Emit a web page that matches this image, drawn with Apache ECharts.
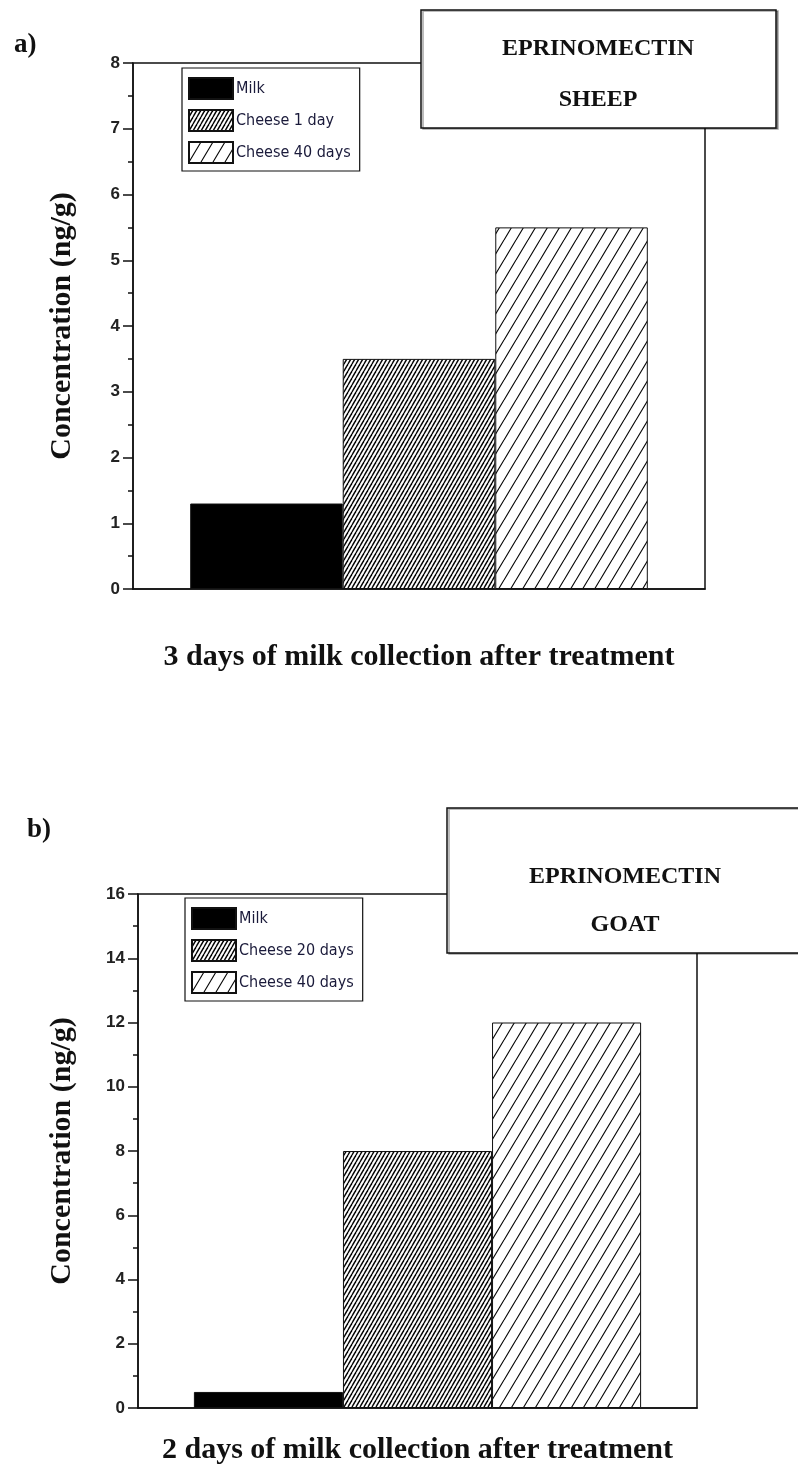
<!DOCTYPE html>
<html>
<head>
<meta charset="utf-8">
<script src="https://cdn.jsdelivr.net/npm/echarts@6/dist/echarts.min.js"></script>
<style>
html,body{margin:0;padding:0;background:#fff;}
#c{width:798px;height:1476px;}
</style>
</head>
<body>
<div id="c"></div>
<script>
// ---- data ----
const categoriesA = ['3 days of milk collection after treatment'];
const categoriesB = ['2 days of milk collection after treatment'];
const seriesNamesA = ['Milk', 'Cheese 1 day', 'Cheese 40 days'];
const seriesNamesB = ['Milk', 'Cheese 20 days', 'Cheese 40 days'];
const valuesA = [[1.3], [3.5], [5.5]];
const valuesB = [[0.5], [8], [12]];
const yTicksA = [0, 1, 2, 3, 4, 5, 6, 7, 8];
const yTicksB = [0, 2, 4, 6, 8, 10, 12, 14, 16];
const yLabel = 'Concentration (ng/g)';
const boxA = ['EPRINOMECTIN', 'SHEEP'];
const boxB = ['EPRINOMECTIN', 'GOAT'];

// ---- hatch patterns ----
function hatch(s, h, lw) {
  const c = document.createElement('canvas');
  c.width = s; c.height = h;
  const g = c.getContext('2d');
  g.fillStyle = '#fff'; g.fillRect(0, 0, s, h);
  g.strokeStyle = '#000'; g.lineWidth = lw;
  for (let k = -1; k <= 1; k++) {
    g.beginPath();
    g.moveTo(k * s, h);
    g.lineTo(k * s + s, 0);
    g.stroke();
  }
  return c;
}
const fills = [
  '#000',
  { image: hatch(4, 7, 1.4), repeat: 'repeat' },
  { image: hatch(12, 20, 1.1), repeat: 'repeat' }
];

const serif = "'Liberation Serif', 'DejaVu Serif', serif";
const narrow = "'Liberation Sans Narrow', 'DejaVu Sans Condensed', sans-serif";
const sans = "'Liberation Sans', 'DejaVu Sans', sans-serif";

const grids = [
  { left: 133, top: 63, right: 93, bottom: 887, show: true, borderColor: '#111', borderWidth: 1.5 },
  { left: 138, top: 894, right: 101, bottom: 68, show: true, borderColor: '#111', borderWidth: 1.5 }
];

function xAxis(idx, cats, margin) {
  return {
    type: 'category', gridIndex: idx, data: cats,
    axisLine: { lineStyle: { color: '#111', width: 1.5 } },
    axisTick: { show: false },
    axisLabel: { margin: margin, fontFamily: serif, fontWeight: 'bold', fontSize: 30, color: '#111' }
  };
}
function yAxis(idx, max, interval, gap) {
  return {
    type: 'value', gridIndex: idx, min: 0, max: max, interval: interval,
    name: yLabel, nameLocation: 'middle', nameGap: gap,
    nameTextStyle: { fontFamily: serif, fontWeight: 'bold', fontSize: 30, color: '#111' },
    axisLine: { show: true, lineStyle: { color: '#111', width: 1.5 } },
    axisTick: { show: true, length: 10, lineStyle: { color: '#111', width: 1.5 } },
    minorTick: { show: true, splitNumber: 2, length: 5, lineStyle: { color: '#111', width: 1.5 } },
    splitLine: { show: false },
    axisLabel: { margin: 13, fontFamily: sans, fontWeight: 'bold', fontSize: 17, color: '#222' }
  };
}

const series = [];
seriesNamesA.forEach((n, i) => series.push({
  name: n, type: 'bar', xAxisIndex: 0, yAxisIndex: 0, data: valuesA[i],
  barGap: 0, barCategoryGap: '20%',
  itemStyle: { color: fills[i], borderColor: '#111', borderWidth: 1 }
}));
seriesNamesB.forEach((n, i) => series.push({
  name: n, type: 'bar', xAxisIndex: 1, yAxisIndex: 1, data: valuesB[i],
  barGap: 0, barCategoryGap: '20%',
  itemStyle: { color: fills[i], borderColor: '#111', borderWidth: 1 }
}));

function legend(names, left, top) {
  return {
    data: names, orient: 'vertical', left: left, top: top,
    itemWidth: 44, itemHeight: 21, itemGap: 9,
    padding: [9, 9, 7, 6],
    borderColor: '#111', borderWidth: 1.2,
    backgroundColor: '#fff',
    selectedMode: false,
    icon: 'rect',
    textStyle: { fontFamily: narrow, fontSize: 16, lineHeight: 20, color: '#1a1a3a', padding: [0, 0, 0, -2] }
  };
}

function box(x, y, w, h, lines, cx, y1, y2) {
  return {
    type: 'group', z: 100,
    children: [
      { type: 'rect', shape: { x: x, y: y, width: w, height: h },
        style: { fill: '#fff', stroke: '#111', lineWidth: 1.5, shadowColor: 'rgba(0,0,0,0.35)', shadowOffsetX: 2, shadowOffsetY: 1 } },
      { type: 'text', x: cx, y: y1, style: { text: lines[0], font: 'bold 24px ' + serif, fill: '#111', textAlign: 'center', textVerticalAlign: 'middle' } },
      { type: 'text', x: cx, y: y2, style: { text: lines[1], font: 'bold 24px ' + serif, fill: '#111', textAlign: 'center', textVerticalAlign: 'middle' } }
    ]
  };
}

const option = {
  animation: false,
  backgroundColor: '#fff',
  grid: grids,
  xAxis: [xAxis(0, categoriesA, 53), xAxis(1, categoriesB, 27)],
  yAxis: [yAxis(0, yTicksA[yTicksA.length - 1], yTicksA[1] - yTicksA[0], 56),
          yAxis(1, yTicksB[yTicksB.length - 1], yTicksB[1] - yTicksB[0], 61)],
  legend: [legend(seriesNamesA, 182, 68), legend(seriesNamesB, 185, 898)],
  series: series,
  graphic: [
    box(421, 10, 355, 118, boxA, 598, 49, 100),
    box(447, 808, 352, 145, boxB, 625, 877, 925),
    { type: 'text', x: 14, y: 45, style: { text: 'a)', font: 'bold 27px ' + serif, fill: '#111', textVerticalAlign: 'middle' } },
    { type: 'text', x: 27, y: 830, style: { text: 'b)', font: 'bold 27px ' + serif, fill: '#111', textVerticalAlign: 'middle' } }
  ]
};

const chart = echarts.init(document.getElementById('c'), null, { renderer: 'canvas' });
chart.setOption(option);
</script>
</body>
</html>
